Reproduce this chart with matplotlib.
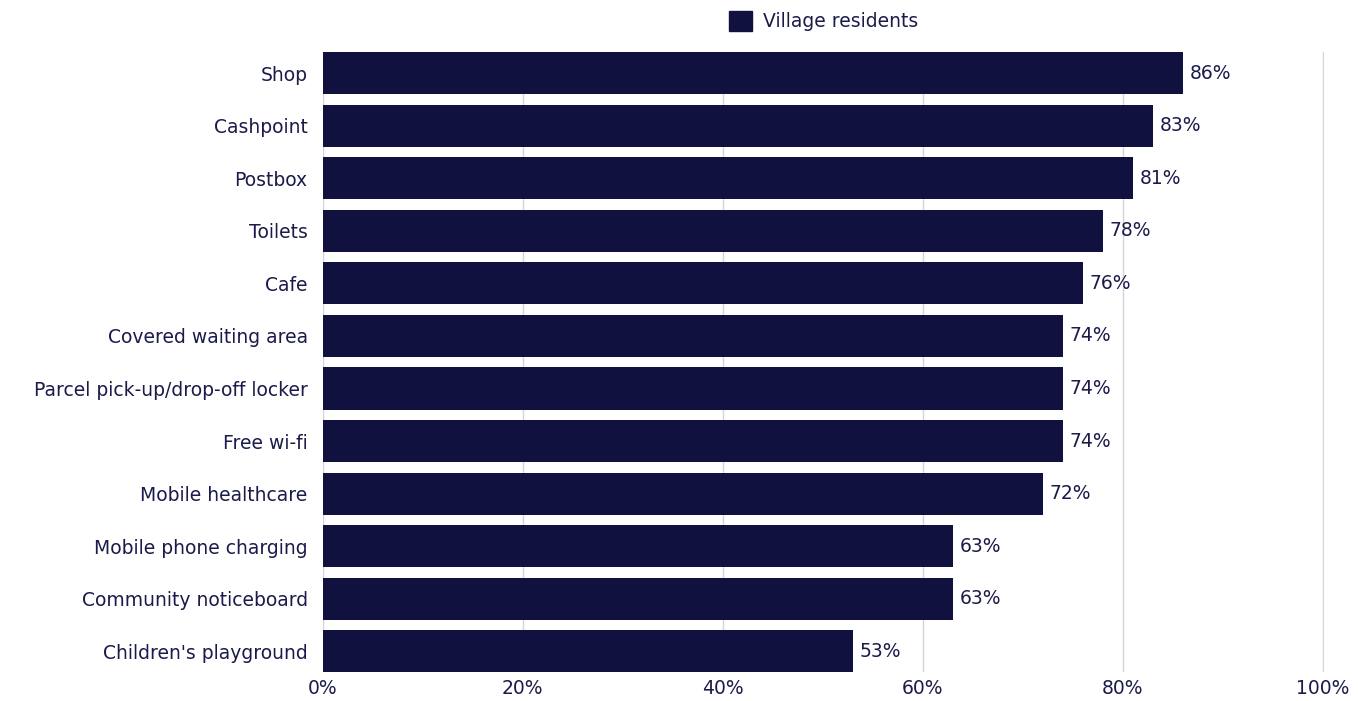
import matplotlib.pyplot as plt
from matplotlib.ticker import FuncFormatter
from matplotlib.patches import Patch

# Share of village residents who want each facility
facilities = [
    "Shop", "Cashpoint", "Postbox", "Toilets", "Cafe",
    "Covered waiting area", "Parcel pick-up/drop-off locker", "Free wi-fi",
    "Mobile healthcare", "Mobile phone charging", "Community noticeboard",
    "Children's playground",
]
residents_pct = [86, 83, 81, 78, 76, 74, 74, 74, 72, 63, 63, 53]
x_ticks = [0, 20, 40, 60, 80, 100]

navy = "#11113f"
text_col = "#1b1b4b"
grid_col = "#d3d3de"
fs = 13.5

plt.rcParams['font.family'] = ['DejaVu Sans']

fig = plt.figure(figsize=(13.58, 7.01), dpi=100)
ax = fig.add_axes([0.2378, 0.0407, 0.7372, 0.8851])

ypos = list(range(len(facilities)))
ax.barh(ypos, residents_pct, height=0.8, color=navy, zorder=2)

for y, v in zip(ypos, residents_pct):
    ax.text(v + 0.7, y, f"{v}%", va="center", ha="left", fontsize=fs, color=text_col)

ax.set_xlim(0, 100.15)
ax.set_ylim(len(facilities) - 1 + 0.4, -0.4)
ax.set_yticks(ypos)
ax.set_yticklabels(facilities, fontsize=fs, color=text_col)
ax.set_xticks(x_ticks)
ax.xaxis.set_major_formatter(FuncFormatter(lambda v, _: f"{v:.0f}%"))
ax.tick_params(axis="x", length=0, pad=5, labelsize=fs, labelcolor=text_col)
ax.tick_params(axis="y", length=0, pad=11)

ax.grid(axis="x", color=grid_col, linewidth=1, zorder=0)
ax.set_axisbelow(True)
for s in ax.spines.values():
    s.set_visible(False)

handle = Patch(facecolor=navy, edgecolor=navy)
ax.legend([handle], ["Village residents"], loc="lower center",
          bbox_to_anchor=(0.5, 1.0), frameon=False, fontsize=fs,
          handlelength=1.25, handleheight=1.25, handletextpad=0.55,
          labelcolor=text_col, borderaxespad=0.7)

fig.savefig("out.png", dpi=100)
